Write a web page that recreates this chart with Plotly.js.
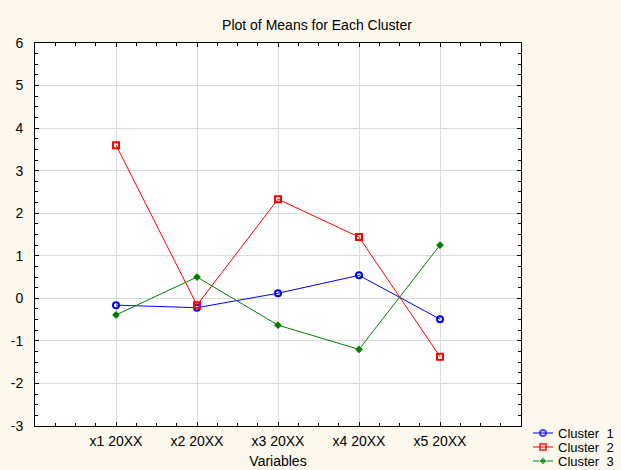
<!DOCTYPE html>
<html>
<head>
<meta charset="utf-8">
<script src="https://cdn.plot.ly/plotly-3.0.1.min.js"></script>
<style>html,body{margin:0;padding:0;background:#fcf8ee;}</style>
</head>
<body>
<div id="chart" style="width:621px;height:470px;"></div>
<script>
const categories = ["x1 20XX", "x2 20XX", "x3 20XX", "x4 20XX", "x5 20XX"];
const cluster1 = [-0.16, -0.22, 0.12, 0.54, -0.49];
const cluster2 = [3.60, -0.16, 2.33, 1.44, -1.37];
const cluster3 = [-0.39, 0.50, -0.63, -1.20, 1.25];
const seriesNames = ["Cluster  1", "Cluster  2", "Cluster  3"];
const yTicks = [-3, -2, -1, 0, 1, 2, 3, 4, 5, 6];

const W = 621, H = 470;
const plotL = 35, plotR = 521, plotT = 43, plotB = 426;
const legL = 525, legT = 427;

const xpos = categories.map((c, i) => i + 1);

const styles = [
  {line: {color: "#0000ff", width: 1}, marker: {symbol: "circle-open", size: 6, color: "#0000ff", line: {width: 2}}},
  {line: {color: "#ff0000", width: 1}, marker: {symbol: "square-open", size: 6, color: "#ff0000", line: {width: 2}}},
  {line: {color: "#008000", width: 1}, marker: {symbol: "diamond", size: 6, color: "#008000"}}
];
const series = [cluster1, cluster2, cluster3];

const traces = series.map((vals, k) => ({
  x: xpos, y: vals, name: seriesNames[k], mode: "lines+markers",
  line: styles[k].line, marker: styles[k].marker, showlegend: false,
  xaxis: "x", yaxis: "y", cliponaxis: false
}));

// custom legend drawn on a small pixel-scaled axis in the lower-right corner
const legendRows = [433, 447, 461];
const legX0 = 533, legX1 = 553, legText = 556;
const annotations = [];
series.forEach((vals, k) => {
  const m = Object.assign({}, styles[k].marker, {size: [0, styles[k].marker.size, 0]});
  traces.push({
    x: [legX0, (legX0 + legX1) / 2, legX1], y: [legendRows[k], legendRows[k], legendRows[k]],
    mode: "lines+markers", line: styles[k].line, marker: m, showlegend: false,
    xaxis: "x2", yaxis: "y2", hoverinfo: "skip", cliponaxis: false
  });
  annotations.push({
    xref: "x2", yref: "y2", x: legText, y: legendRows[k], text: seriesNames[k].replace(/ /g, "&nbsp;"),
    xanchor: "left", yanchor: "middle", showarrow: false,
    font: {size: 13, color: "#000"}
  });
});

const font = {family: "Liberation Sans, Arial, sans-serif", size: 14, color: "#000"};

const layout = {
  width: W, height: H,
  paper_bgcolor: "#fcf8ee",
  plot_bgcolor: "#fcf8ee",
  font: font,
  margin: {l: 0, r: 0, t: 0, b: 0, pad: 0, autoexpand: false},
  title: {text: "Plot of Means for Each Cluster", font: {size: 14, color: "#000"},
          x: 317 / W, xref: "container", y: 1 - 25 / H, yref: "container", xanchor: "center", yanchor: "middle"},
  xaxis: {
    domain: [plotL / W, plotR / W],
    range: [0, 6], tickvals: xpos, ticktext: categories,
    showline: true, linecolor: "#000", linewidth: 1, mirror: "allticks",
    ticks: "inside", ticklen: 4, tickcolor: "#000", ticklabelstandoff: 2,
    showgrid: true, gridcolor: "#dcdcdc", gridwidth: 1, zeroline: false,
    minor: {dtick: 0.25, tick0: 0, ticks: "inside", ticklen: 3, tickcolor: "#000", showgrid: false},
    title: {text: "Variables", font: {size: 14}, standoff: 8},
    automargin: false, fixedrange: true
  },
  yaxis: {
    domain: [1 - plotB / H, 1 - plotT / H],
    range: [-3, 6], tickvals: yTicks, ticktext: yTicks.map(String),
    showline: true, linecolor: "#000", linewidth: 1, mirror: "allticks",
    ticks: "inside", ticklen: 4, tickcolor: "#000", ticklabelstandoff: 8,
    showgrid: true, gridcolor: "#dcdcdc", gridwidth: 1, zeroline: false,
    minor: {dtick: 0.25, tick0: 0, ticks: "inside", ticklen: 3, tickcolor: "#000", showgrid: false},
    automargin: false, fixedrange: true
  },
  xaxis2: {domain: [legL / W, 1], range: [legL, W], visible: false, fixedrange: true, anchor: "y2"},
  yaxis2: {domain: [0, 1 - legT / H], range: [H, legT], visible: false, fixedrange: true, anchor: "x2"},
  shapes: [{type: "rect", xref: "x domain", yref: "y domain", x0: 0, x1: 1, y0: 0, y1: 1,
            fillcolor: "#ffffff", line: {width: 0}, layer: "below"}],
  annotations: annotations,
  showlegend: false
};

Plotly.newPlot("chart", traces, layout, {displayModeBar: false, staticPlot: true});
</script>
</body>
</html>
